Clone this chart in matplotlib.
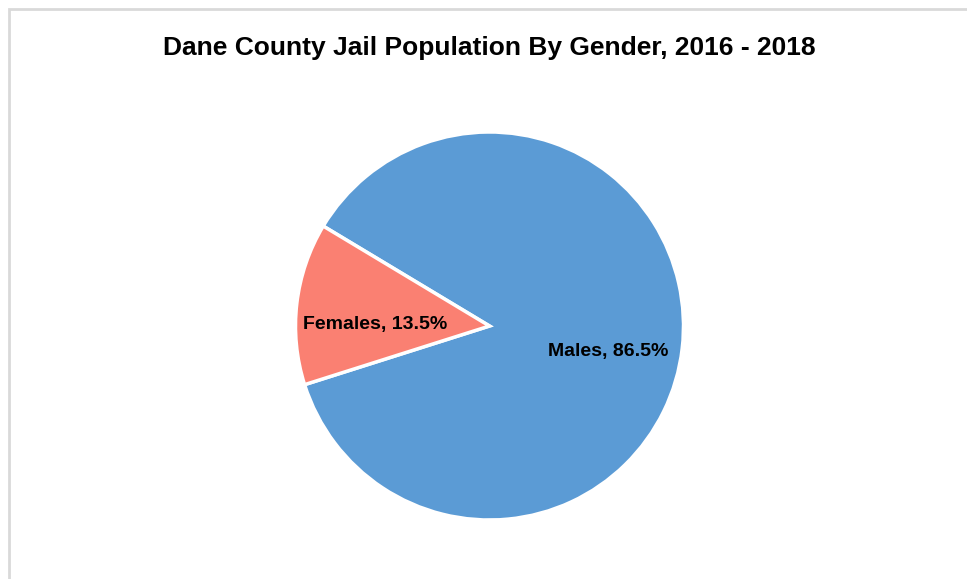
import matplotlib
matplotlib.use("Agg")
import matplotlib.pyplot as plt
from matplotlib.patches import Rectangle

# data
categories = ["Males", "Females"]
shares = [86.5, 13.5]
colors = ["#5B9BD5", "#FA8072"]
title = "Dane County Jail Population By Gender, 2016 - 2018"

plt.rcParams["font.family"] = ["Liberation Sans", "DejaVu Sans"]

W, H = 967, 579
fig = plt.figure(figsize=(W / 100, H / 100), dpi=100)

# light grey chart frame
fig.patches.append(Rectangle((8.5 / W, -0.1), 1.2, (H - 8.5) / H + 0.1,
                             transform=fig.transFigure, fill=False,
                             edgecolor="#D9D9D9", linewidth=2))

cx, cy, r = 489.5, 326, 194
ax = fig.add_axes([(cx - r) / W, (H - cy - r) / H, 2 * r / W, 2 * r / H])
wedges, _ = ax.pie(shares, colors=colors, startangle=149, counterclock=False,
                   wedgeprops=dict(edgecolor="white", linewidth=2.5))
ax.set_xlim(-1, 1)
ax.set_ylim(-1, 1)
ax.set_aspect("equal")

# data labels
label_pos = [(0.611, -0.129), (-0.59, 0.01)]
for name, val, (x, y) in zip(categories, shares, label_pos):
    ax.text(x, y, f"{name}, {val}%", ha="center", va="center",
            fontsize=14, fontweight="bold", color="black")

fig.text(489 / W, 1 - 48 / H, title, ha="center", va="center",
         fontsize=19, fontweight="bold")

fig.savefig("out.png", dpi=100)
